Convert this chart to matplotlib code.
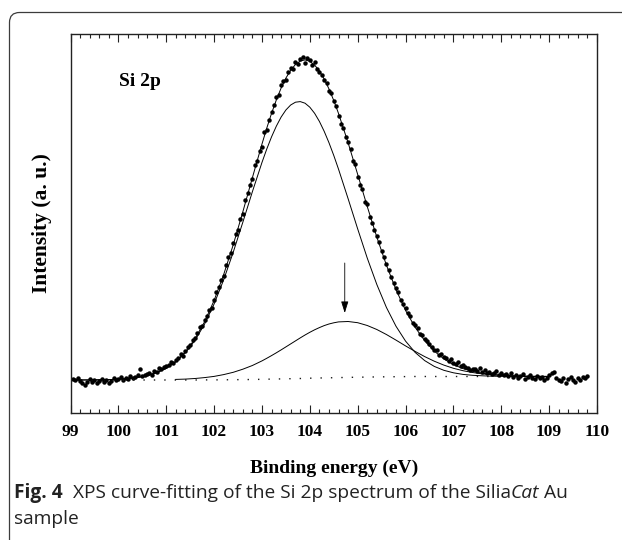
"""XPS Si 2p curve-fitting (figure 4), redrawn with matplotlib."""
import matplotlib

matplotlib.use("Agg")
import matplotlib.pyplot as plt  # noqa: E402
import numpy as np  # noqa: E402
from matplotlib.patches import FancyBboxPatch  # noqa: E402
from matplotlib.ticker import MultipleLocator, NullLocator  # noqa: E402

# ------------------------------------------------------------------
# Data (intensity in arbitrary units)
# ------------------------------------------------------------------

# energies of the fitted curves (finer around the main peak)
FIT_E = [
    99.0, 99.2, 99.4, 99.6, 99.8, 100.0, 100.2, 100.4, 100.6, 100.8,
    101.0, 101.2, 101.4, 101.6, 101.8, 102.0, 102.2, 102.4, 102.6, 102.8,
    103.0, 103.1, 103.2, 103.3, 103.4, 103.5, 103.6, 103.7, 103.8, 103.9,
    104.0, 104.1, 104.2, 104.3, 104.4, 104.5, 104.6, 104.8, 105.0, 105.2,
    105.4, 105.6, 105.8, 106.0, 106.2, 106.4, 106.6, 106.8, 107.0, 107.2,
    107.4, 107.6, 107.8, 108.0, 108.2, 108.4, 108.6, 108.8, 109.0,
]

BACKGROUND = [
    33.0, 33.0, 33.0, 33.0, 33.0, 33.0, 33.0, 33.0, 33.0, 33.0,
    33.0, 33.0, 33.0, 33.0, 33.1, 33.1, 33.2, 33.3, 33.4, 33.5,
    33.7, 33.8, 33.9, 34.0, 34.1, 34.2, 34.3, 34.4, 34.5, 34.6,
    34.8, 34.9, 35.0, 35.1, 35.2, 35.3, 35.4, 35.6, 35.8, 35.9,
    36.1, 36.2, 36.3, 36.4, 36.5, 36.5, 36.5, 36.5, 36.5, 36.5,
    36.5, 36.5, 36.5, 36.5, 36.5, 36.5, 36.5, 36.5, 36.5,
]

COMPONENT_1 = [
    33.0, 33.0, 33.1, 33.2, 33.4, 33.8, 34.4, 35.5, 37.4, 40.2,
    44.6, 51.1, 60.2, 72.6, 88.8, 109.0, 133.2, 160.8, 190.7, 221.3,
    250.5, 263.9, 276.1, 286.8, 295.9, 303.0, 308.0, 310.8, 311.4, 309.8,
    305.8, 299.7, 291.6, 281.7, 270.3, 257.6, 243.8, 214.3, 184.1, 154.9,
    128.5, 105.6, 86.8, 71.9, 60.6, 52.4, 46.6, 42.7, 40.2, 38.6,
    37.7, 37.2, 36.8, 36.7, 36.6, 36.5, 36.5, 36.5, 36.5,
]

# second component is only drawn from 101.2 eV on
COMPONENT_2_START = 101.2
COMPONENT_2 = [
    33.6, 33.9, 34.5, 35.4, 36.6, 38.4, 40.7, 43.8, 47.5, 52.1,
    54.7, 57.4, 60.2, 63.1, 66.1, 69.1, 72.1, 75.1, 78.0, 80.7,
    83.2, 85.4, 87.4, 89.0, 90.2, 91.1, 91.5, 90.3, 87.5, 83.5,
    78.5, 72.9, 67.1, 61.6, 56.4, 51.8, 47.9, 44.7, 42.3, 40.5,
    39.1, 38.2, 37.6, 37.1, 36.9, 36.7, 36.6, 36.6,
]

ENVELOPE = [
    33.0, 33.0, 33.1, 33.2, 33.4, 33.8, 34.4, 35.5, 37.5, 40.4,
    44.9, 51.7, 61.1, 74.1, 91.1, 112.5, 138.4, 168.2, 201.1, 235.3,
    268.9, 284.8, 299.6, 313.0, 324.9, 334.9, 342.8, 348.5, 352.0, 353.1,
    351.7, 348.0, 342.0, 334.0, 324.1, 312.5, 299.5, 270.2, 238.6, 206.5,
    175.9, 147.9, 123.4, 102.6, 85.7, 72.3, 61.9, 54.1, 48.4, 44.4,
    41.7, 39.8, 38.5, 37.8, 37.2, 36.9, 36.7, 36.6, 36.6,
]

# measured points, every 0.05 eV from 99.05 to 109.80 eV
MEAS_E = np.round(np.arange(99.05, 109.801, 0.05), 2)
MEAS_I = [
    34.5, 33.0, 35.0, 32.5, 30.5, 28.0, 31.5, 34.0, 31.0, 33.5,
    30.0, 32.0, 34.5, 31.5, 33.0, 30.5, 32.5, 35.5, 33.0, 34.0,
    36.0, 33.5, 35.0, 34.5, 37.0, 35.0, 36.5, 38.0, 44.0, 37.5,
    38.5, 39.0, 40.5, 38.0, 42.0, 41.0, 45.5, 44.0, 46.5, 47.0,
    48.0, 51.5, 50.0, 53.5, 55.0, 59.5, 57.5, 62.5, 66.5, 68.0,
    73.0, 75.5, 80.0, 86.5, 87.0, 93.0, 97.5, 103.5, 105.0, 113.0,
    121.0, 126.0, 133.5, 137.0, 148.0, 156.5, 160.0, 170.5, 179.0, 183.5,
    194.0, 199.5, 213.0, 220.5, 228.0, 234.0, 248.5, 252.0, 262.5, 266.0,
    281.0, 283.5, 293.0, 301.5, 308.0, 316.5, 318.0, 328.0, 332.5, 333.0,
    341.0, 345.5, 344.0, 351.5, 349.0, 354.5, 356.0, 350.5, 355.0, 353.5,
    348.0, 351.0, 344.5, 341.0, 338.0, 333.5, 330.0, 322.5, 320.5, 312.0,
    307.5, 297.0, 289.0, 285.5, 276.0, 271.5, 264.5, 252.0, 249.5, 236.0,
    228.0, 224.5, 211.0, 209.0, 196.0, 190.5, 183.5, 177.0, 171.5, 162.0,
    156.5, 149.0, 143.0, 136.5, 130.0, 125.5, 121.0, 113.5, 109.0, 105.5,
    100.0, 97.5, 90.0, 88.5, 85.0, 79.5, 78.0, 74.5, 72.0, 69.5,
    66.0, 63.5, 63.0, 58.5, 59.0, 56.0, 55.5, 52.0, 54.0, 50.5,
    49.0, 51.0, 47.5, 48.0, 46.5, 45.0, 43.0, 44.5, 44.0, 42.5,
    45.0, 41.5, 43.0, 40.5, 41.5, 39.0, 40.5, 42.0, 38.5, 40.0,
    38.0, 39.5, 37.0, 40.5, 36.5, 38.5, 35.0, 37.5, 39.0, 34.5,
    36.0, 38.0, 35.5, 34.0, 37.5, 35.0, 36.0, 33.5, 35.5, 38.5,
    40.0, 41.5, 35.0, 33.0, 32.0, 35.5, 30.5, 34.0, 36.5, 33.0,
    31.5, 35.0, 33.5, 36.0, 35.0, 37.0,
]

# arrow marking the second component
ARROW_E = 104.73
ARROW_FROM = 150
ARROW_TO = 100

X_MIN, X_MAX = 99, 110
Y_MIN, Y_MAX = 0, 379

SERIF = "Liberation Serif"
SANS = "Open Sans"

# ------------------------------------------------------------------
# Figure
# ------------------------------------------------------------------

fig = plt.figure(figsize=(6.22, 5.4), dpi=100)

# page layer in pixel units (frame + caption)
page = fig.add_axes([0, 0, 1, 1])
page.set_xlim(0, 622)
page.set_ylim(540, 0)
page.axis("off")
page.add_patch(FancyBboxPatch((9.5, 12.5), 700, 600, boxstyle="round,pad=0,rounding_size=10",
                              fill=False, edgecolor="#3c3c3c", linewidth=0.9))

ax = fig.add_axes([70.5 / 622, 1 - 413 / 540, (597 - 70.5) / 622, 379 / 540])

ax.plot(MEAS_E, MEAS_I, linestyle="none", marker="o", markersize=2.2, color="black")
ax.plot(FIT_E, BACKGROUND, color="#1a1a1a", linewidth=1.0, linestyle=(0, (1, 6.5)))
ax.plot(FIT_E, COMPONENT_1, color="black", linewidth=0.7)
fit_e = np.array(FIT_E)
ax.plot(fit_e[fit_e >= COMPONENT_2_START - 1e-9], COMPONENT_2, color="black", linewidth=0.7)
ax.plot(FIT_E, ENVELOPE, color="black", linewidth=0.7)

ax.annotate("", xy=(ARROW_E, ARROW_TO), xytext=(ARROW_E, ARROW_FROM),
            arrowprops=dict(arrowstyle="-|>,head_length=0.7,head_width=0.22",
                            color="black", linewidth=0.6, mutation_scale=10, shrinkA=0, shrinkB=0))

ax.text(0.092, 0.875, "Si 2p", transform=ax.transAxes, fontsize=14, fontweight="bold",
        family=SERIF, ha="left", va="center")

ax.set_xlim(X_MIN, X_MAX)
ax.set_ylim(Y_MIN, Y_MAX)
ax.xaxis.set_major_locator(MultipleLocator(1))
ax.xaxis.set_minor_locator(MultipleLocator(0.2))
ax.yaxis.set_major_locator(NullLocator())
ax.yaxis.set_minor_locator(NullLocator())
ax.tick_params(axis="x", which="both", direction="in", top=True, width=0.8, color="#222222")
ax.tick_params(axis="x", which="major", length=5.5, pad=8)
ax.tick_params(axis="x", which="minor", length=3)
for lab in ax.get_xticklabels():
    lab.set_fontfamily(SERIF)
    lab.set_fontweight("bold")
    lab.set_fontsize(12.5)
for sp in ax.spines.values():
    sp.set_linewidth(1.0)
    sp.set_color("#222222")

ax.set_xlabel("Binding energy (eV)", family=SERIF, fontweight="bold", fontsize=14, labelpad=14)
ax.set_ylabel("Intensity (a. u.)", family=SERIF, fontweight="bold", fontsize=15.5, labelpad=13)

# caption: mixed bold / regular / italic pieces on one line
caption_y = 498
caption_size = 13.8
pieces = [("Fig. 4", "bold", "normal"),
          ("  XPS curve-fitting of the Si 2p spectrum of the Silia", "normal", "normal"),
          ("Cat", "normal", "italic"),
          (" Au", "normal", "normal")]
fig.canvas.draw()
renderer = fig.canvas.get_renderer()
x = 14
for txt, weight, style in pieces:
    t = page.text(x, caption_y, txt, family=SANS, fontsize=caption_size, fontweight=weight,
                  fontstyle=style, ha="left", va="baseline", color="#222222")
    x += t.get_window_extent(renderer).width
page.text(14, caption_y + 26, "sample", family=SANS, fontsize=caption_size, ha="left",
          va="baseline", color="#222222")

fig.savefig("out.png", dpi=100)
plt.close(fig)
